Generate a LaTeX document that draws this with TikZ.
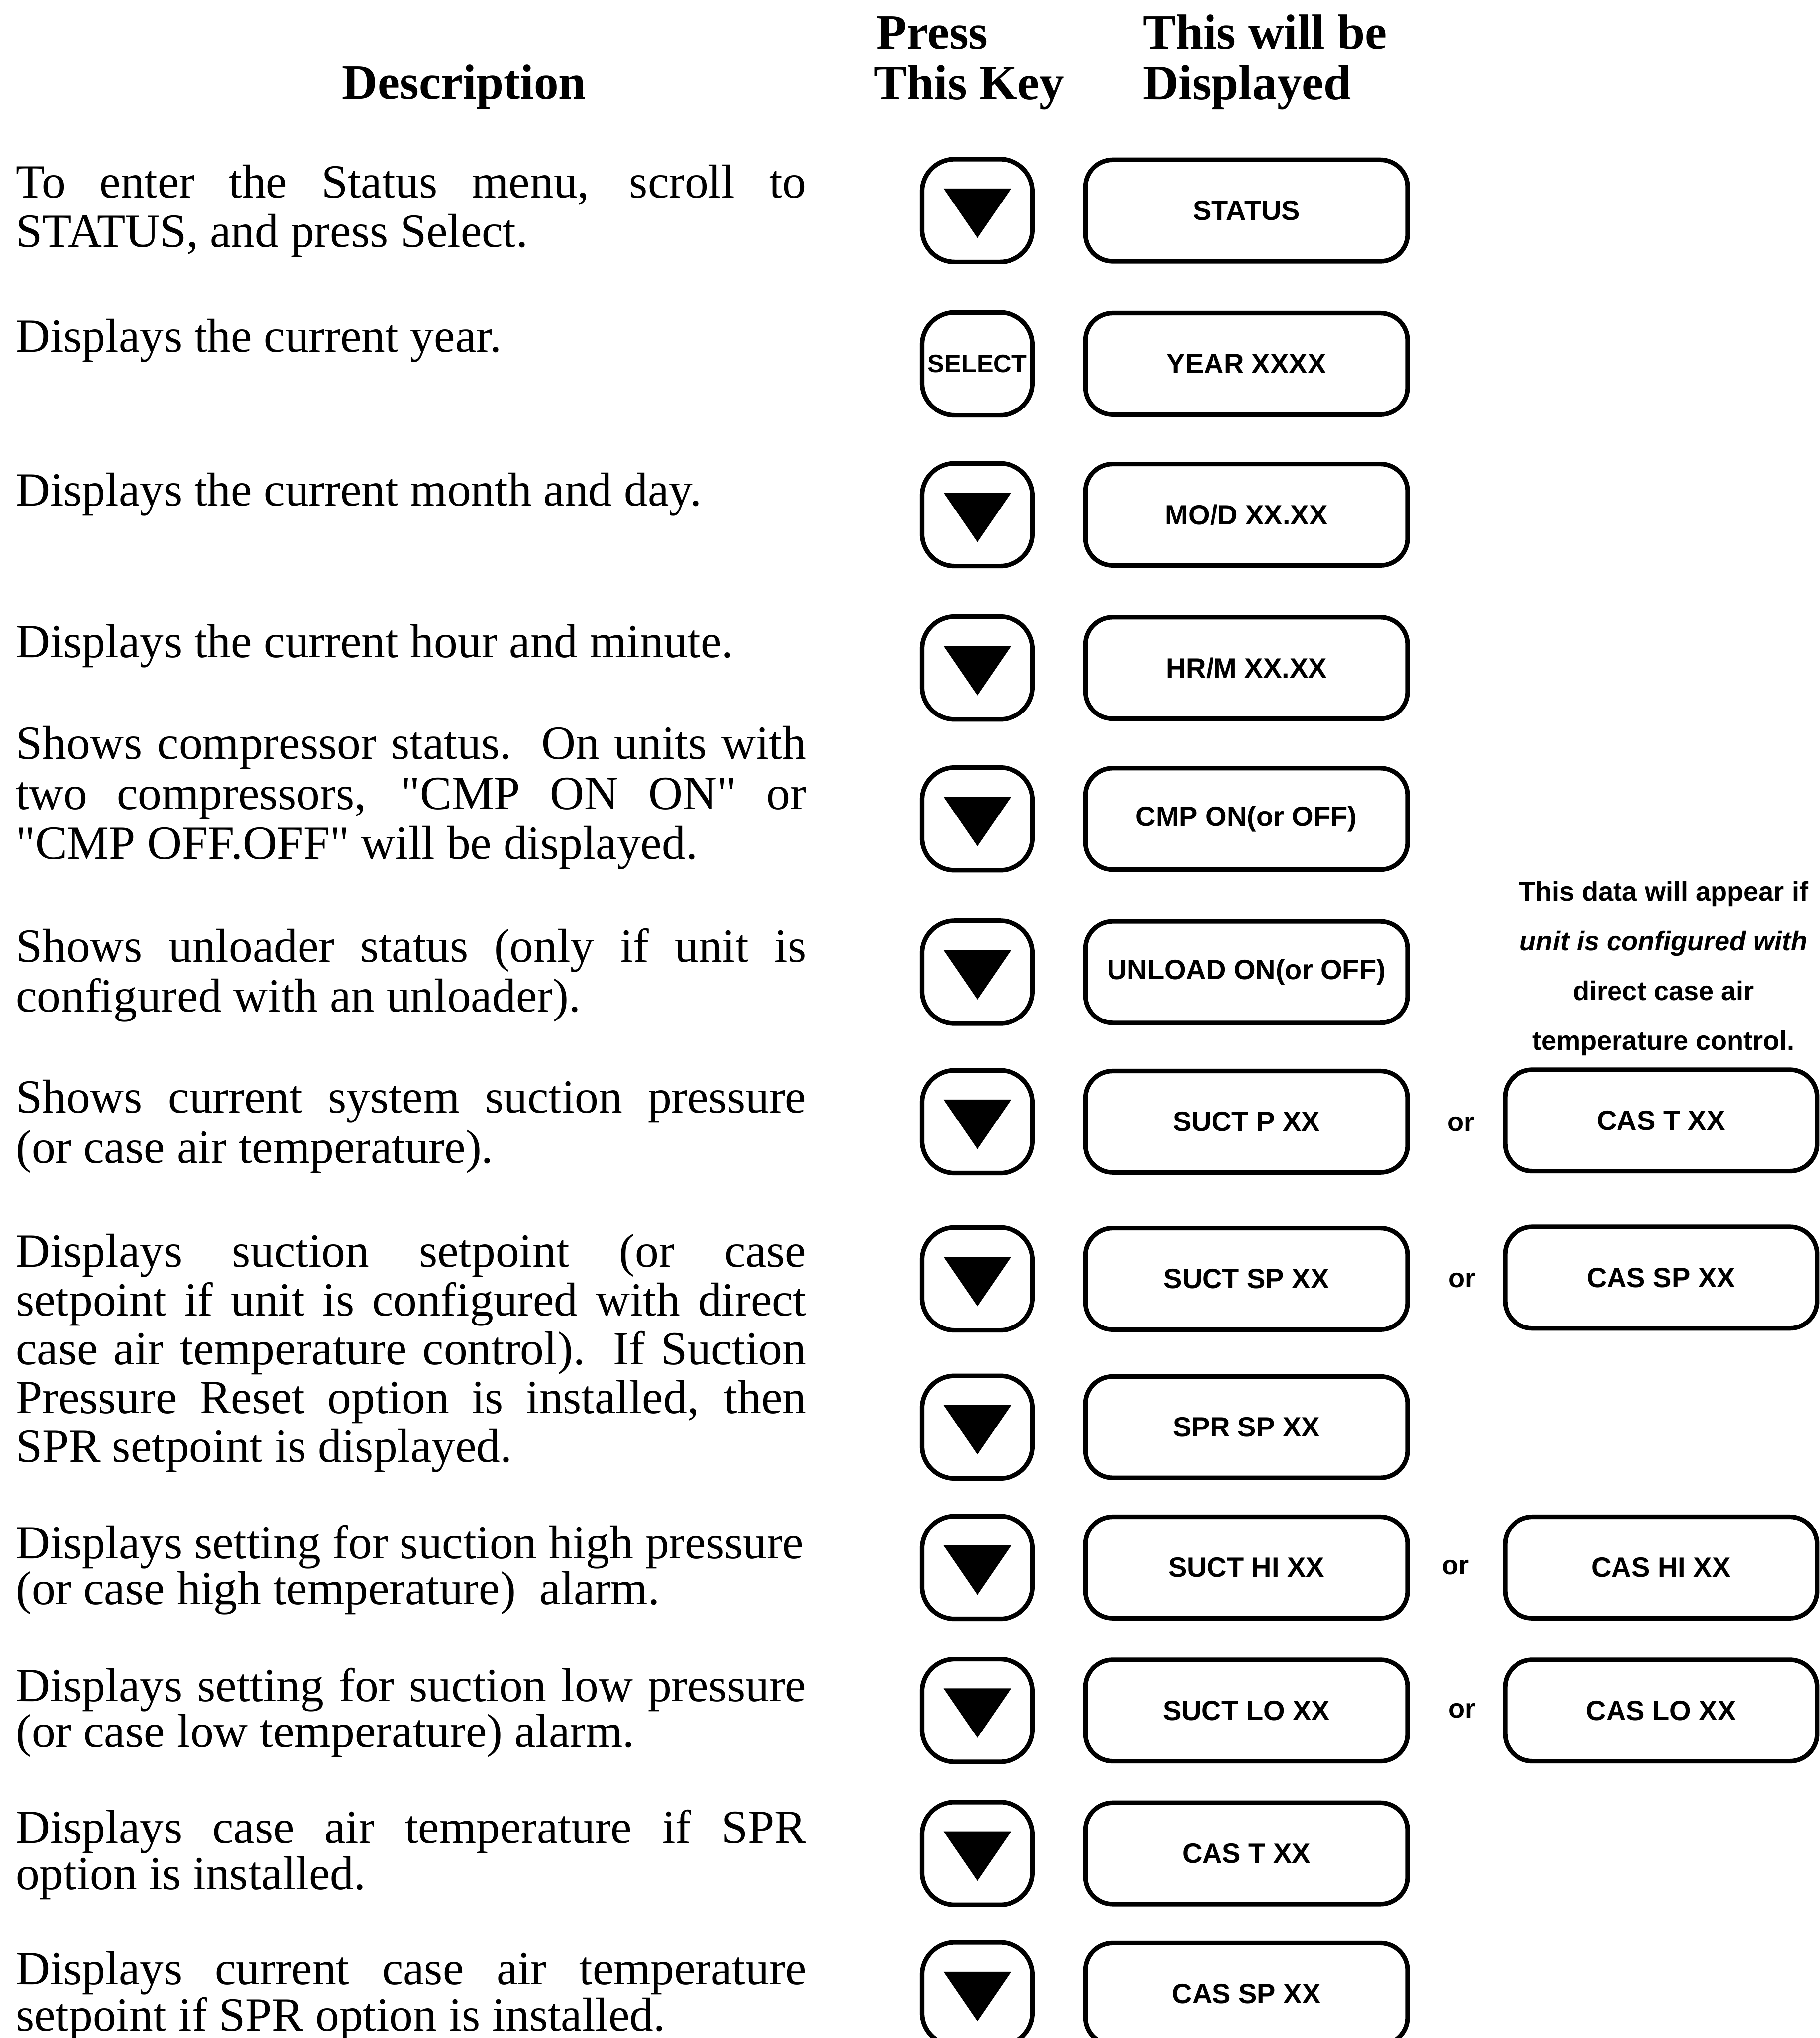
\documentclass[tikz,border=0pt]{standalone}
\usepackage{fontspec}
\setmainfont{Liberation Serif}
\newfontfamily\panelfont{Liberation Sans}
\usetikzlibrary{positioning, calc}

% one justified line of the description column
\newcommand{\jl}[1]{{\spaceskip=0pt\xspaceskip=0pt\makebox[12.16cm][s]{#1}}}
\newcommand{\qq}{\textquotedbl}

\begin{document}
\begin{tikzpicture}[x=0.02cm, y=-0.02cm,
  every node/.style={inner sep=0pt},
  desc/.style={anchor=base west, text width=12.16cm, align=justify,
    font=\fontsize{20.8}{#1}\selectfont},
  desc/.default=21.9pt,
  head/.style={anchor=base west, font=\fontsize{21.6}{22}\selectfont\bfseries},
  keybox/.style={draw, line width=2pt, rounded corners=0.5cm,
    minimum width=1.7cm, minimum height=1.58cm},
  dispbox/.style={draw, line width=2pt, rounded corners=0.42cm,
    minimum width=4.96cm, minimum height=1.56cm,
    font=\panelfont\bfseries\fontsize{12.2}{14}\selectfont},
  ortext/.style={font=\panelfont\bfseries\fontsize{11.8}{14}\selectfont},
  note/.style={align=center, font=\panelfont\bfseries\fontsize{11.8}{21.8pt}\selectfont}]
\useasboundingbox (0,0) rectangle (1400,1568);
\fill[white] (0,0) rectangle (1400,1568);
\clip (0,0) rectangle (1400,1568);

% column heads
\node[head] (hdesc)  at (263,76)   {Description};
\node[head] (hpress) at (674,37.6) {Press};
\node[head] (hkey)   at (672,76.4) {This Key};
\node[head] (hwill)  at (879,37.6) {This will be};
\node[head] (hshown) at (879,76.4) {Displayed};

% descriptions
\node[desc=21.6pt] (t1) at (12,152) {\jl{To enter the Status menu, scroll to}\\ STATUS, and press Select.};
\node[desc] (t2) at (12,271) {Displays the current year.};
\node[desc] (t3) at (12,389) {Displays the current month and day.};
\node[desc] (t4) at (12,506) {Displays the current hour and minute.};
\node[desc] (t5) at (12,584) {\jl{Shows compressor status.\ \ On units with}\\ \jl{two compressors, \qq CMP ON ON\qq{} or}\\ \qq CMP OFF.OFF\qq{} will be displayed.};
\node[desc] (t6) at (12,740) {\jl{Shows unloader status (only if unit is}\\ configured with an unloader).};
\node[desc=22.1pt] (t7) at (12,856) {\jl{Shows current system suction pressure}\\ (or case air temperature).};
\node[desc=21.3pt] (t8) at (12,975) {\jl{Displays suction setpoint (or case}\\ \jl{setpoint if unit is configured with direct}\\ \jl{case air temperature control). If Suction}\\ \jl{Pressure Reset option is installed, then}\\ SPR setpoint is displayed.};
\node[desc=20.1pt] (t9) at (12,1199) {Displays setting for suction high pressure\\ (or case high temperature)\ \ alarm.};
\node[desc=20.1pt] (t10) at (12,1309) {\jl{Displays setting for suction low pressure}\\ (or case low temperature) alarm.};
\node[desc=20.4pt] (t11) at (12,1418) {\jl{Displays case air temperature if SPR}\\ option is installed.};
\node[desc=20.1pt] (t12) at (12,1527) {\jl{Displays current case air temperature}\\ setpoint if SPR option is installed.};

% keys and displays
\foreach \i/\yy/\txt in {1/162/{STATUS}, 2/280/{YEAR XXXX}, 3/396/{MO/D XX.XX},
    4/514/{HR/M XX.XX}, 5/630/{CMP ON(or OFF)}, 6/748/{UNLOAD ON(or OFF)},
    7/863/{SUCT P XX}, 8/984/{SUCT SP XX}, 9/1098/{SPR SP XX},
    10/1206/{SUCT HI XX}, 11/1316/{SUCT LO XX}, 12/1426/{CAS T XX},
    13/1534/{CAS SP XX}} {
  \node[keybox] (k\i) at (752,\yy) {};
  \node[dispbox] (d\i) at (959,\yy) {\txt};
}
\foreach \i in {1,3,4,...,13}
  \fill ($(k\i.center)+(-26,-17)$) -- ++(52,0) -- ++(-26,38) -- cycle;
\node[font=\panelfont\bfseries\fontsize{11}{13}\selectfont] (sel) at (k2.center) {SELECT};

% alternative displays
\node[note] (note) at (1280,745) {This data will appear if\\ \textit{unit is configured with}\\ direct case air\\ temperature control.};
\node[dispbox, minimum width=4.8cm] (c7)  at (1278,862)  {CAS T XX};
\node[dispbox, minimum width=4.8cm] (c8)  at (1278,983)  {CAS SP XX};
\node[dispbox, minimum width=4.8cm] (c10) at (1278,1206) {CAS HI XX};
\node[dispbox, minimum width=4.8cm] (c11) at (1278,1316) {CAS LO XX};
\node[ortext] (or7)  at (1124,865)  {or};
\node[ortext] (or8)  at (1125,985)  {or};
\node[ortext] (or10) at (1120,1206) {or};
\node[ortext] (or11) at (1125,1316) {or};
\end{tikzpicture}
\end{document}
